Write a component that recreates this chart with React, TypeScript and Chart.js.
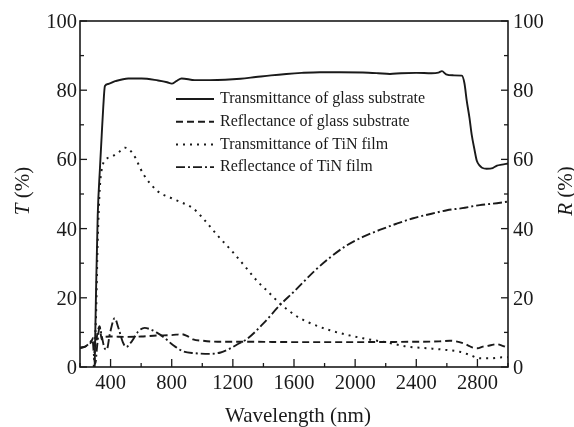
import React, { useEffect, useRef } from "react";
import { Chart, registerables } from "chart.js";

Chart.register(...registerables);

// ---------- data ----------
const tGlassWl = [296, 305, 316, 330, 342, 352, 363, 385, 430, 516, 603, 711, 770, 800, 830, 865, 952, 1050, 1150, 1250, 1350, 1450, 1550, 1650, 1770, 1900, 2050, 2150, 2228, 2300, 2400, 2500, 2545, 2568, 2595, 2640, 2698, 2715, 2730, 2748, 2763, 2780, 2796, 2815, 2830, 2860, 2900, 2928, 2960, 3000];
const tGlass = [0, 22, 44, 57, 67, 75, 81.2, 81.8, 82.6, 83.4, 83.4, 82.8, 82.3, 81.9, 82.6, 83.4, 82.9, 82.9, 83, 83.3, 83.8, 84.3, 84.7, 85, 85.2, 85.2, 85.1, 84.9, 84.7, 84.9, 85, 84.9, 85.1, 85.5, 84.6, 84.3, 84.2, 82, 77, 72, 67, 63, 59.6, 58.2, 57.6, 57.3, 57.5, 58.2, 58.5, 58.8];

const rGlassWl = [200, 240, 270, 288, 300, 315, 328, 342, 356, 400, 500, 600, 700, 800, 865, 900, 940, 1000, 1100, 1300, 1600, 2000, 2400, 2550, 2620, 2706, 2740, 2770, 2800, 2836, 2880, 2927, 2960, 3000];
const rGlass = [5.6, 6, 7, 8.5, 6, 10, 11.8, 8, 8.7, 8.8, 8.7, 8.8, 9.1, 9.2, 9.5, 9, 8, 7.6, 7.3, 7.3, 7.2, 7.2, 7.3, 7.4, 7.6, 6.9, 6.2, 5.6, 5.4, 5.9, 6.2, 6.6, 6.2, 5.5];

const tTinWl = [290, 305, 315, 330, 350, 365, 417, 460, 494, 547, 614, 703, 809, 941, 1000, 1100, 1200, 1290, 1360, 1420, 1510, 1620, 1700, 1835, 2051, 2208, 2339, 2480, 2600, 2685, 2750, 2816, 2881, 2967, 3000];
const tTin = [0, 15, 35, 52, 58.5, 59.8, 61, 62.3, 63.4, 61.6, 55.8, 51, 48.6, 45.8, 43.2, 38, 33.2, 28.5, 24.8, 22.2, 18.3, 14.6, 12.8, 10.6, 8.3, 7.1, 5.9, 5.4, 4.9, 4.4, 3.5, 2.5, 2.5, 2.8, 2.8];

const rTinWl = [200, 230, 260, 282, 292, 300, 312, 328, 342, 360, 375, 395, 427, 450, 480, 502, 540, 580, 623, 660, 700, 745, 810, 876, 950, 1050, 1120, 1180, 1240, 1290, 1400, 1508, 1600, 1660, 1740, 1840, 1940, 2050, 2160, 2270, 2380, 2500, 2600, 2700, 2815, 2900, 3000];
const rTin = [5.5, 5.8, 6.8, 7.8, 3, 1, 6, 11.5, 9, 5.5, 5, 9.5, 14.1, 11.5, 7.2, 5.8, 7.5, 10.2, 11.3, 10.9, 10, 8.7, 6.3, 4.5, 4, 3.8, 4.2, 5.3, 6.8, 8, 12.6, 17.9, 21.8, 24.5, 28, 31.8, 35, 37.6, 39.6, 41.4, 43, 44.3, 45.3, 45.9, 46.8, 47.2, 47.8];

const seriesLabels = [
  "Transmittance of glass substrate",
  "Reflectance of glass substrate",
  "Transmittance of TiN film",
  "Reflectance of TiN film",
];

const xMajorTicks = [400, 800, 1200, 1600, 2000, 2400, 2800];
const xTickLabels = ["400", "800", "1200", "1600", "2000", "2400", "2800"];
const xMinorTicks = [200, 600, 1000, 1400, 1800, 2200, 2600, 3000];
const yMajorTicks = [0, 20, 40, 60, 80, 100];
const yTickLabels = ["0", "20", "40", "60", "80", "100"];
const yMinorTicks = [10, 30, 50, 70, 90];

const xTitle = "Wavelength (nm)";
const leftTitleVar = "T";
const rightTitleVar = "R";
const titleUnit = " (%)";

// ---------- styles ----------
const INK = "#1a1a1a";
const SERIF = "'Liberation Serif', 'Times New Roman', serif";

function pts(xs: number[], ys: number[]) {
  return xs.map((x, i) => ({ x, y: ys[i] }));
}

const decorPlugin = {
  id: "decor",
  afterDatasetsDraw(chart: any) {
    const { ctx, chartArea: a, scales } = chart;
    const xs = scales.x;
    const yl = scales.y;
    const yr = scales.y2;
    ctx.save();
    ctx.strokeStyle = INK;
    ctx.fillStyle = INK;

    // frame
    ctx.lineWidth = 1.6;
    ctx.strokeRect(a.left, a.top, a.right - a.left, a.bottom - a.top);

    const seg = (x1: number, y1: number, x2: number, y2: number) => {
      ctx.beginPath();
      ctx.moveTo(x1, y1);
      ctx.lineTo(x2, y2);
      ctx.stroke();
    };

    ctx.lineWidth = 1.3;
    // bottom ticks (inward)
    xMinorTicks.forEach((v) => {
      const p = xs.getPixelForValue(v);
      seg(p, a.bottom, p, a.bottom - 4);
    });
    xMajorTicks.forEach((v) => {
      const p = xs.getPixelForValue(v);
      seg(p, a.bottom, p, a.bottom - 8);
    });
    // left & right ticks (inward)
    yMinorTicks.forEach((v) => {
      const p = yl.getPixelForValue(v);
      seg(a.left, p, a.left + 4, p);
      const q = yr.getPixelForValue(v);
      seg(a.right, q, a.right - 4, q);
    });
    yMajorTicks.forEach((v) => {
      const p = yl.getPixelForValue(v);
      seg(a.left, p, a.left + 7, p);
      const q = yr.getPixelForValue(v);
      seg(a.right, q, a.right - 7, q);
    });

    // tick labels
    ctx.font = `20.5px ${SERIF}`;
    ctx.textBaseline = "alphabetic";
    ctx.textAlign = "center";
    xMajorTicks.forEach((v, i) => {
      ctx.fillText(xTickLabels[i], xs.getPixelForValue(v), a.bottom + 22);
    });
    ctx.textAlign = "right";
    yMajorTicks.forEach((v, i) => {
      ctx.fillText(yTickLabels[i], a.left - 3, yl.getPixelForValue(v) + 7);
    });
    ctx.textAlign = "left";
    yMajorTicks.forEach((v, i) => {
      ctx.fillText(yTickLabels[i], a.right + 5, yr.getPixelForValue(v) + 7);
    });

    // x title
    ctx.font = `21px ${SERIF}`;
    ctx.textAlign = "center";
    ctx.fillText(xTitle, (a.left + a.right) / 2 + 4, a.bottom + 55);

    // y titles (both read bottom-to-top)
    const drawYTitle = (cx: number, cy: number, v: string) => {
      ctx.save();
      ctx.translate(cx, cy);
      ctx.rotate(-Math.PI / 2);
      ctx.font = `italic 21px ${SERIF}`;
      const w1 = ctx.measureText(v).width;
      ctx.font = `21px ${SERIF}`;
      const w2 = ctx.measureText(titleUnit).width;
      const start = -(w1 + w2) / 2;
      ctx.textAlign = "left";
      ctx.textBaseline = "middle";
      ctx.font = `italic 21px ${SERIF}`;
      ctx.fillText(v, start, 0);
      ctx.font = `21px ${SERIF}`;
      ctx.fillText(titleUnit, start + w1, 0);
      ctx.restore();
    };
    const midY = (a.top + a.bottom) / 2 - 3;
    drawYTitle(23, midY, leftTitleVar);
    drawYTitle(566, midY, rightTitleVar);

    // legend
    ctx.font = `16px ${SERIF}`;
    ctx.textAlign = "left";
    ctx.textBaseline = "middle";
    chart.data.datasets.forEach((ds: any, i: number) => {
      const yy = a.top + 78 + i * 22.7;
      ctx.save();
      ctx.lineWidth = ds.borderWidth;
      ctx.setLineDash(ds.borderDash || []);
      ctx.strokeStyle = ds.borderColor;
      seg(a.left + 96, yy, a.left + 134, yy);
      ctx.restore();
      ctx.fillText(ds.label, a.left + 140, yy);
    });

    ctx.restore();
  },
};

export default function App() {
  const ref = useRef<HTMLCanvasElement | null>(null);
  useEffect(() => {
    if (!ref.current) return;
    const common = {
      pointRadius: 0,
      borderColor: INK,
      fill: false,
      cubicInterpolationMode: "monotone" as const,
    };
    const chart = new Chart(ref.current, {
      type: "line",
      data: {
        datasets: [
          { ...common, label: seriesLabels[0], data: pts(tGlassWl, tGlass), yAxisID: "y", borderWidth: 1.9, borderDash: [] },
          { ...common, label: seriesLabels[1], data: pts(rGlassWl, rGlass), yAxisID: "y2", borderWidth: 1.9, borderDash: [7, 4] },
          { ...common, label: seriesLabels[2], data: pts(tTinWl, tTin), yAxisID: "y", borderWidth: 2, borderDash: [2, 5] },
          { ...common, label: seriesLabels[3], data: pts(rTinWl, rTin), yAxisID: "y2", borderWidth: 1.9, borderDash: [9, 3, 2, 3] },
        ],
      },
      options: {
        responsive: false,
        animation: false,
        parsing: true,
        layout: { padding: { left: 80, right: 66, top: 21, bottom: 60 } },
        plugins: { legend: { display: false }, tooltip: { enabled: false }, title: { display: false } },
        scales: {
          x: { type: "linear", min: 200, max: 3000, display: false },
          y: { type: "linear", min: 0, max: 100, display: false },
          y2: { type: "linear", min: 0, max: 100, display: false, position: "right" },
        },
      },
      plugins: [decorPlugin],
    });
    return () => chart.destroy();
  }, []);
  return (
    <div style={{ position: "absolute", left: 0, top: 0, width: 574, height: 427, background: "#fff" }}>
      <canvas ref={ref} width={574} height={427} style={{ display: "block" }} />
    </div>
  );
}
